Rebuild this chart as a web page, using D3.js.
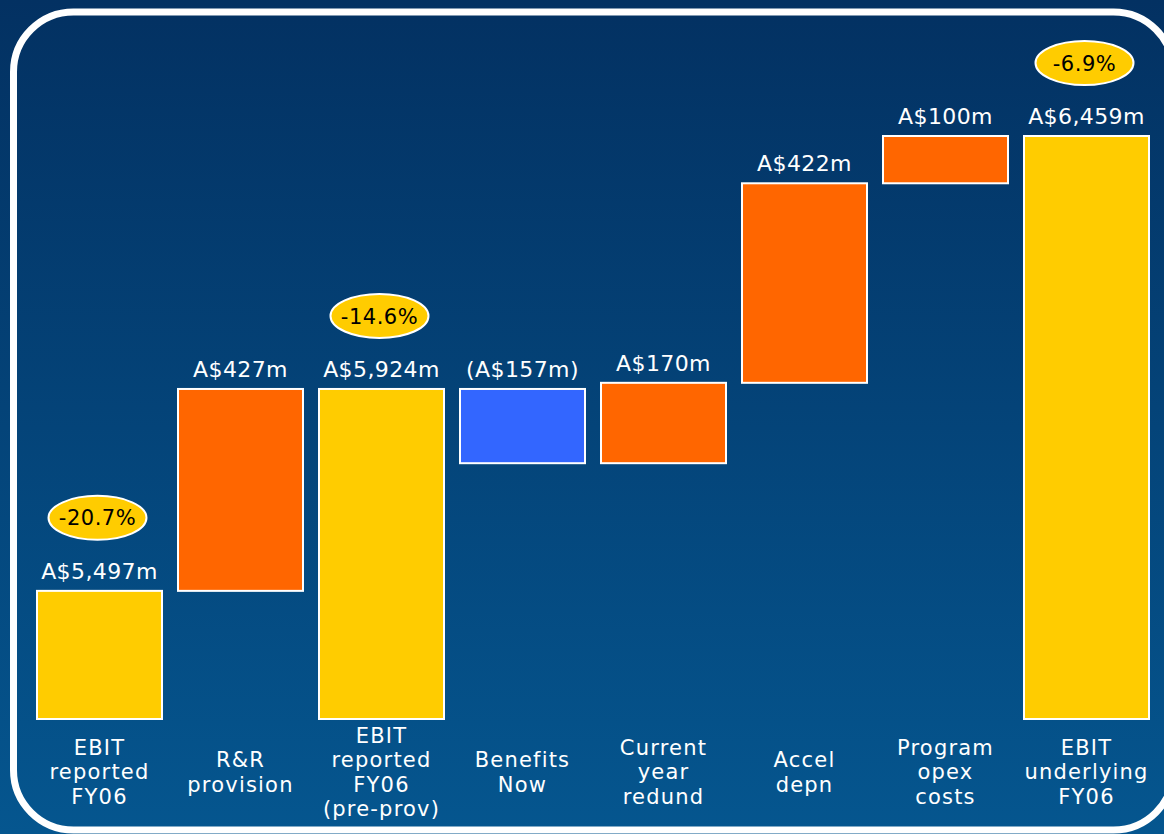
<!DOCTYPE html>
<html>
<head>
<meta charset="utf-8">
<script src="https://cdn.jsdelivr.net/npm/d3@7"></script>
<style>
  html, body { margin: 0; padding: 0; background: #03407a; }
  #container { width: 1164px; height: 834px; }
</style>
</head>
<body>
<div id="container"></div>
<script>
// waterfall data
const categories = [
  ["EBIT", "reported", "FY06"],
  ["R&R", "provision"],
  ["EBIT", "reported", "FY06", "(pre-prov)"],
  ["Benefits", "Now"],
  ["Current", "year", "redund"],
  ["Accel", "depn"],
  ["Program", "opex", "costs"],
  ["EBIT", "underlying", "FY06"]
];
const values = [5497, 427, 5924, -157, 170, 422, 100, 6459];
const kinds = ["total", "up", "total", "down", "up", "up", "up", "total"];
const valueLabels = ["A$5,497m", "A$427m", "A$5,924m", "(A$157m)", "A$170m", "A$422m", "A$100m", "A$6,459m"];
const badges = ["-20.7%", null, "-14.6%", null, null, null, null, "-6.9%"];

// broken axis: bars start from this value, not from zero
const yDomain = [5226, 6459];

const colors = {total: "#ffcc00", up: "#ff6600", down: "#3366ff"};

const width = 1164, height = 834;

const svg = d3.select("#container")
  .append("svg")
  .attr("width", width)
  .attr("height", height);

const defs = svg.append("defs");
const grad = defs.append("linearGradient")
  .attr("id", "bg")
  .attr("x1", 0).attr("y1", 0).attr("x2", 0).attr("y2", 1);
grad.append("stop").attr("offset", "0%").attr("stop-color", "#033162");
grad.append("stop").attr("offset", "100%").attr("stop-color", "#05568f");

svg.append("rect")
  .attr("width", width)
  .attr("height", height)
  .attr("fill", "url(#bg)");

// white rounded frame
svg.append("rect")
  .attr("x", 13.5)
  .attr("y", 12)
  .attr("width", 1160)
  .attr("height", 818)
  .attr("rx", 60)
  .attr("ry", 60)
  .attr("fill", "none")
  .attr("stroke", "#fff")
  .attr("stroke-width", 7);

const x = d3.scaleBand()
  .domain(d3.range(categories.length))
  .range([29, 1157])
  .paddingInner(0.1135)
  .paddingOuter(0.0567);

const y = d3.scaleLinear()
  .domain(yDomain)
  .range([719, 136]);

// running totals for the floating bars
let running = 0;
const bars = values.map((v, i) => {
  let lo, hi;
  if (kinds[i] === "total") {
    running = v;
    lo = yDomain[0]; hi = v;
  } else {
    const start = running;
    running += v;
    lo = Math.min(start, running);
    hi = Math.max(start, running);
  }
  return {i, lo, hi, kind: kinds[i]};
});

const g = svg.append("g");

g.selectAll("rect.bar")
  .data(bars)
  .join("rect")
  .attr("class", "bar")
  .attr("x", d => x(d.i))
  .attr("y", d => y(d.hi))
  .attr("width", x.bandwidth())
  .attr("height", d => y(d.lo) - y(d.hi))
  .attr("fill", d => colors[d.kind])
  .attr("stroke", "#fff")
  .attr("stroke-width", 2);

const font = "'DejaVu Sans', sans-serif";

g.selectAll("text.val")
  .data(bars)
  .join("text")
  .attr("class", "val")
  .attr("x", d => x(d.i) + x.bandwidth() / 2)
  .attr("y", d => y(d.hi) - 12)
  .attr("text-anchor", "middle")
  .style("font-family", font)
  .style("font-size", "22px")
  .style("letter-spacing", "0.4px")
  .style("fill", "#fff")
  .text(d => valueLabels[d.i]);

const badgeData = bars.filter(d => badges[d.i]);
const badge = g.selectAll("g.badge")
  .data(badgeData)
  .join("g")
  .attr("class", "badge")
  .attr("transform", d => `translate(${x(d.i) + x.bandwidth() / 2 - 2},${y(d.hi) - 73})`);

badge.append("ellipse")
  .attr("rx", 49)
  .attr("ry", 22)
  .attr("fill", "#ffcc00")
  .attr("stroke", "#fff")
  .attr("stroke-width", 2);

badge.append("text")
  .attr("text-anchor", "middle")
  .attr("dy", "0.36em")
  .style("font-family", font)
  .style("font-size", "21px")
  .style("letter-spacing", "0.5px")
  .style("fill", "#000")
  .text(d => badges[d.i]);

// category labels under the bars
const lineH = 24.5;
categories.forEach((lines, i) => {
  const t = g.append("text")
    .attr("text-anchor", "middle")
    .style("font-family", font)
    .style("font-size", "21px")
    .style("letter-spacing", "1.2px")
    .style("fill", "#fff");
  const top = 772 - (lines.length - 1) * lineH / 2;
  lines.forEach((line, j) => {
    t.append("tspan")
      .attr("x", x(i) + x.bandwidth() / 2)
      .attr("y", top + j * lineH)
      .attr("dy", "0.35em")
      .text(line);
  });
});
</script>
</body>
</html>
